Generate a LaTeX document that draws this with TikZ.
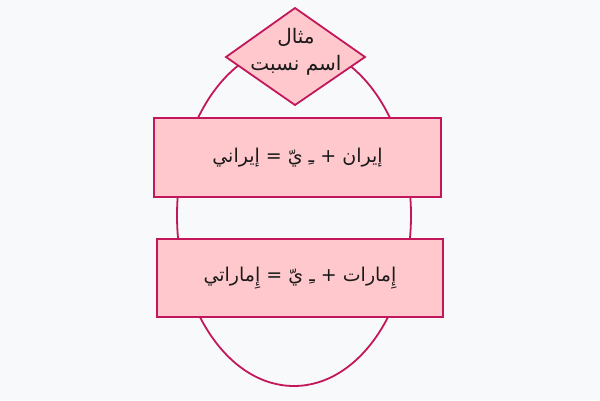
\documentclass[tikz,border=0pt]{standalone}
\usepackage{fontspec}
\usetikzlibrary{shapes.geometric}
\TeXXeTstate=1
\newfontfamily\arabicfont[Script=Arabic]{DejaVu Sans}
\definecolor{bgc}{HTML}{F8F9FA}
\definecolor{strokec}{HTML}{C2185B}
\definecolor{fillc}{HTML}{FFC8CC}
\definecolor{textc}{HTML}{1A1A1A}
\tikzset{
  shapeline/.style={draw=strokec, line width=1.8pt},
  boxnode/.style={shapeline, fill=fillc, rectangle, inner sep=0pt, text=textc, font=\arabicfont\fontsize{19}{22}\selectfont},
  labelnode/.style={text=textc, font=\arabicfont\fontsize{20}{27}\selectfont, align=center},
  ringnode/.style={shapeline, ellipse, inner sep=0pt, minimum width=234pt, minimum height=341pt}
}
\begin{document}
\begin{tikzpicture}[x=1pt,y=-1pt]
\fill[bgc] (0,0) rectangle (600,400);
\useasboundingbox (0,0) rectangle (600,400);
\node[ringnode] (e) at (294,215.5) {};
\node[boxnode, minimum width=287pt, minimum height=79pt] (b1) at (297.5,157.5) {\beginR إيران + ـِ يّ = إيراني\endR};
\node[boxnode, minimum width=286pt, minimum height=78pt] (b2) at (300,278) {\beginR إِمارات + ـِ يّ = إِماراتي\endR};
\path (295,8) coordinate (dt) (295,105) coordinate (db) (226,57) coordinate (dl) (365,57) coordinate (dr);
\filldraw[shapeline, fill=fillc, line join=miter] (dt) -- (dr) -- (db) -- (dl) -- cycle;
\node[labelnode] (d) at (296,52) {\beginR مثال\endR\\\beginR اسم نسبت\endR};
\end{tikzpicture}
\end{document}
